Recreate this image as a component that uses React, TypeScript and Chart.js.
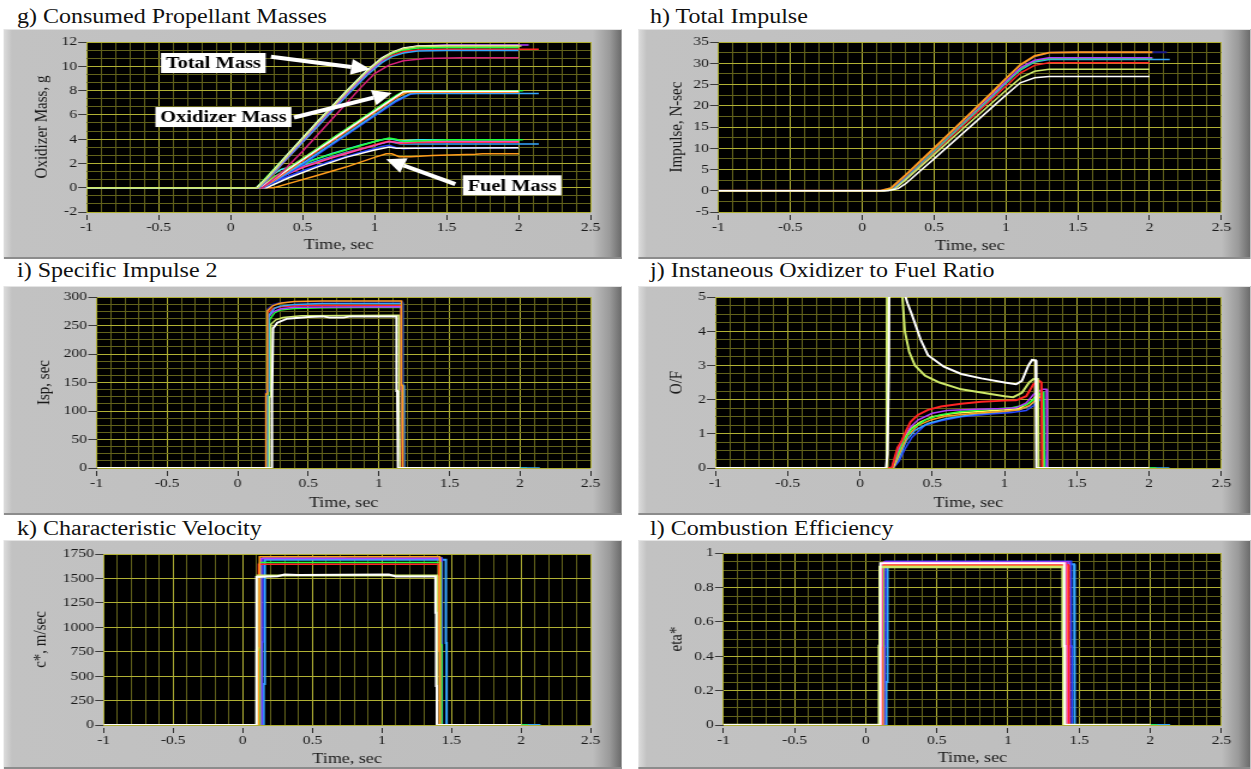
import React, { useEffect, useRef } from 'react';
import { Chart, registerables } from 'chart.js';

Chart.register(...registerables);

// The reference figure is stretched horizontally; everything is drawn in a
// container that is scaled along x by S.
const S = 1.2;
const FONT = '"Liberation Serif", "Times New Roman", serif';

type Pt = [number, number];

// ---------------- shared axis values ----------------
const X_TICKS = [-1, -0.5, 0, 0.5, 1, 1.5, 2, 2.5];
const X_MINOR = 0.1;
const X_TITLE = 'Time, sec';

// ---------------- colours ----------------
const WHITE = '#ffffff';
const YG = '#cde86a';
const YELLOW = '#ffff55';
const RED = '#ff2424';
const VIOLET = '#b23cff';
const GREEN = '#22ff3a';
const BLUE = '#2846ff';
const SKY = '#36a6ff';
const ORANGE = '#ff9c1c';
const NAVY = '#1c1c8c';
const PINK = '#ff46b4';
const MAGENTA = '#d8207c';
const CYAN = '#36f0f0';

// ---------------- g) Consumed Propellant Masses ----------------
const G_Y_TICKS = [-2, 0, 2, 4, 6, 8, 10, 12];
const G_TOTAL_WHITE: Pt[] = [[-1,0],[0.18,0],[0.25,0.8],[0.4,2.8],[0.6,5.4],[0.8,7.9],[0.95,9.7],[1.05,10.7],[1.12,11.15],[1.2,11.5],[1.3,11.68],[1.5,11.72],[2.0,11.72]];
const G_TOTAL_YG: Pt[] = [[-1,0],[0.19,0],[0.26,0.9],[0.4,2.7],[0.6,5.3],[0.8,7.8],[0.95,9.6],[1.05,10.6],[1.12,11.1],[1.2,11.45],[1.3,11.62],[1.5,11.68],[2.02,11.68]];
const G_TOTAL_VIOLET: Pt[] = [[-1,0],[0.19,0],[0.27,1.0],[0.4,2.6],[0.6,5.2],[0.8,7.7],[0.95,9.5],[1.05,10.5],[1.12,11.05],[1.2,11.45],[1.3,11.68],[1.5,11.75],[2.07,11.75]];
const G_TOTAL_GREEN: Pt[] = [[-1,0],[0.18,0],[0.26,1.0],[0.4,2.8],[0.6,5.4],[0.8,7.9],[0.95,9.7],[1.05,10.6],[1.12,11.05],[1.2,11.35],[1.3,11.5],[1.5,11.55],[2.0,11.55]];
const G_TOTAL_SKY: Pt[] = [[-1,0],[0.2,0],[0.28,1.0],[0.4,2.5],[0.6,5.0],[0.8,7.5],[0.95,9.3],[1.05,10.3],[1.12,10.8],[1.2,11.1],[1.3,11.25],[1.5,11.3],[2.0,11.3]];
const G_TOTAL_RED: Pt[] = [[-1,0],[0.2,0],[0.28,0.9],[0.4,2.5],[0.6,5.0],[0.8,7.6],[0.95,9.4],[1.05,10.4],[1.12,10.9],[1.2,11.2],[1.3,11.35],[1.5,11.4],[2.14,11.4]];
const G_TOTAL_MAGENTA: Pt[] = [[-1,0],[0.22,0],[0.35,1.2],[0.5,3.0],[0.7,5.6],[0.9,8.2],[1.0,9.4],[1.1,10.1],[1.2,10.45],[1.35,10.65],[1.6,10.7],[2.0,10.7]];
const G_OX_WHITE: Pt[] = [[-1,0],[0.2,0],[0.3,0.7],[0.5,2.3],[0.7,3.9],[0.9,5.5],[1.05,6.7],[1.15,7.5],[1.2,7.9],[1.25,7.95],[2.0,7.95]];
const G_OX_GREEN: Pt[] = [[-1,0],[0.2,0],[0.3,0.75],[0.5,2.35],[0.7,4.0],[0.9,5.6],[1.05,6.8],[1.15,7.6],[1.2,7.92],[1.25,7.98],[2.03,7.98]];
const G_OX_RED: Pt[] = [[-1,0],[0.21,0],[0.3,0.65],[0.5,2.25],[0.7,3.85],[0.9,5.45],[1.05,6.65],[1.15,7.45],[1.2,7.85],[1.25,7.9],[2.0,7.9]];
const G_OX_YELLOW: Pt[] = [[-1,0],[0.2,0],[0.3,0.8],[0.5,2.4],[0.7,4.0],[0.9,5.6],[1.05,6.8],[1.15,7.55],[1.2,7.88],[1.25,7.92],[2.0,7.92]];
const G_OX_ORANGE: Pt[] = [[-1,0],[0.22,0],[0.32,0.75],[0.5,2.2],[0.7,3.8],[0.9,5.4],[1.05,6.6],[1.15,7.4],[1.22,7.82],[1.27,7.86],[2.0,7.86]];
const G_OX_SKY: Pt[] = [[-1,0],[0.22,0],[0.35,0.9],[0.5,2.0],[0.7,3.6],[0.9,5.2],[1.05,6.4],[1.15,7.2],[1.25,7.75],[2.14,7.75]];
const G_OX_BLUE: Pt[] = [[-1,0],[0.23,0],[0.35,0.8],[0.5,1.9],[0.7,3.5],[0.9,5.1],[1.05,6.3],[1.15,7.1],[1.25,7.7],[1.3,7.78],[2.0,7.78]];
const G_FUEL_GREEN: Pt[] = [[-1,0],[0.2,0],[0.3,0.9],[0.4,1.5],[0.6,2.4],[0.8,3.1],[1.0,3.8],[1.1,4.1],[1.15,4.0],[1.2,3.8],[1.3,3.85],[1.5,3.95],[2.03,3.95]];
const G_FUEL_CYAN: Pt[] = [[-1,0],[0.2,0],[0.28,1.0],[0.35,1.5],[0.5,2.0],[0.7,2.8],[0.9,3.5],[1.05,3.95],[1.1,4.05],[1.18,3.85],[1.3,3.95],[2.0,3.95]];
const G_FUEL_SKY: Pt[] = [[-1,0],[0.21,0],[0.3,0.9],[0.4,1.4],[0.6,2.2],[0.8,2.9],[1.0,3.5],[1.1,3.8],[1.18,3.6],[1.3,3.6],[2.14,3.6]];
const G_FUEL_RED: Pt[] = [[-1,0],[0.21,0],[0.32,0.8],[0.5,1.7],[0.7,2.5],[0.9,3.2],[1.05,3.7],[1.1,3.85],[1.18,3.65],[1.3,3.72],[1.5,3.75],[2.0,3.75]];
const G_FUEL_PINK: Pt[] = [[-1,0],[0.21,0],[0.33,0.8],[0.5,1.65],[0.7,2.45],[0.9,3.15],[1.05,3.65],[1.1,3.8],[1.18,3.7],[1.3,3.8],[2.0,3.8]];
const G_FUEL_BLUE: Pt[] = [[-1,0],[0.22,0],[0.35,0.7],[0.5,1.4],[0.7,2.2],[0.9,2.9],[1.05,3.4],[1.1,3.5],[1.15,3.3],[1.2,3.2],[1.35,3.3],[2.0,3.3]];
const G_FUEL_WHITE: Pt[] = [[-1,0],[0.25,0],[0.4,0.8],[0.6,1.7],[0.8,2.5],[1.0,3.1],[1.1,3.35],[1.15,3.25],[1.25,3.25],[2.0,3.3]];
const G_FUEL_ORANGE: Pt[] = [[-1,0],[0.3,0],[0.45,0.5],[0.6,1.0],[0.8,1.7],[1.0,2.5],[1.08,2.8],[1.12,2.8],[1.17,2.55],[1.25,2.55],[1.4,2.65],[1.7,2.75],[1.75,2.8],[2.0,2.8]];
const G_NOTES = [
  { text: 'Total Mass', x: -0.12, y: 10.27, tail: [0.28, 10.78] as Pt, tip: [0.97, 9.75] as Pt },
  { text: 'Oxidizer Mass', x: -0.05, y: 5.82, tail: [0.44, 5.78] as Pt, tip: [1.12, 7.8] as Pt },
  { text: 'Fuel Mass', x: 1.955, y: 0.2, tail: [1.56, 0.3] as Pt, tip: [1.08, 2.35] as Pt },
];

// ---------------- h) Total Impulse ----------------
const H_Y_TICKS = [-5, 0, 5, 10, 15, 20, 25, 30, 35];
const H_ORANGE: Pt[] = [[-1,0],[0.13,0],[0.2,0.6],[0.3,3.6],[0.5,10.0],[0.7,16.5],[0.9,23.0],[1.0,26.4],[1.1,29.6],[1.2,31.7],[1.3,32.5],[1.5,32.6],[2.02,32.6]];
const H_NAVY: Pt[] = [[-1,0],[0.13,0],[0.2,0.6],[0.3,3.5],[0.5,9.9],[0.7,16.4],[0.9,22.9],[1.0,26.3],[1.1,29.5],[1.2,31.6],[1.3,32.5],[1.5,32.6],[2.12,32.6]];
const H_VIOLET: Pt[] = [[-1,0],[0.14,0],[0.2,0.5],[0.3,3.3],[0.5,9.7],[0.7,16.1],[0.9,22.4],[1.0,25.7],[1.1,28.9],[1.2,30.7],[1.3,31.3],[2.02,31.3]];
const H_GREEN: Pt[] = [[-1,0],[0.14,0],[0.2,0.5],[0.3,3.2],[0.5,9.5],[0.7,15.9],[0.9,22.2],[1.0,25.5],[1.1,28.6],[1.2,30.5],[1.3,31.1],[2.02,31.1]];
const H_SKY: Pt[] = [[-1,0],[0.15,0],[0.22,0.6],[0.3,3.0],[0.5,9.3],[0.7,15.7],[0.9,22.0],[1.0,25.3],[1.1,28.4],[1.2,30.3],[1.3,30.9],[2.14,30.9]];
const H_RED: Pt[] = [[-1,0],[0.15,0],[0.22,0.5],[0.3,2.8],[0.5,9.0],[0.7,15.3],[0.9,21.5],[1.0,24.6],[1.1,27.7],[1.2,29.5],[1.3,30.1],[2.0,30.1]];
const H_YG: Pt[] = [[-1,0],[0.16,0],[0.23,0.5],[0.3,2.5],[0.5,8.5],[0.7,14.6],[0.9,20.6],[1.0,23.6],[1.1,26.5],[1.2,28.1],[1.3,28.6],[2.0,28.6]];
const H_WHITE: Pt[] = [[-1,0],[0.18,0],[0.25,0.5],[0.3,1.6],[0.5,7.5],[0.7,13.5],[0.9,19.5],[1.0,22.5],[1.1,25.4],[1.2,26.6],[1.3,26.9],[2.0,26.9]];

// ---------------- i) Specific Impulse 2 ----------------
const I_Y_TICKS = [0, 50, 100, 150, 200, 250, 300];
const I_ORANGE: Pt[] = [[-1,0],[0.2,0],[0.2,130],[0.205,130],[0.21,276],[0.25,285],[0.3,289],[0.4,292],[0.6,293],[1.16,293],[1.16,145],[1.165,145],[1.17,0],[2.0,0]];
const I_NAVY: Pt[] = [[-1,0],[0.2,0],[0.2,135],[0.205,135],[0.21,279],[0.25,287],[0.3,290],[0.4,291.5],[1.165,292],[1.165,140],[1.17,140],[1.175,0],[2.0,0]];
const I_SKY: Pt[] = [[-1,0],[0.21,0],[0.21,135],[0.215,135],[0.22,268],[0.26,280],[0.3,284],[0.4,287],[0.6,288.5],[1.17,289],[1.17,145],[1.175,145],[1.18,0],[2.14,0]];
const I_VIOLET: Pt[] = [[-1,0],[0.205,0],[0.205,128],[0.21,128],[0.215,264],[0.25,274],[0.3,279],[0.4,282],[1.16,283],[1.16,135],[1.165,135],[1.17,0],[2.0,0]];
const I_GREEN: Pt[] = [[-1,0],[0.215,0],[0.215,130],[0.22,130],[0.225,260],[0.26,272],[0.3,277],[0.4,280],[0.6,281],[1.16,282],[1.16,130],[1.165,130],[1.17,0],[2.05,0]];
const I_RED: Pt[] = [[-1,0],[0.2,0],[0.2,132],[0.205,132],[0.21,272],[0.25,280],[0.3,283],[0.45,285],[1.155,285],[1.155,138],[1.16,138],[1.165,0],[2.0,0]];
const I_YG: Pt[] = [[-1,0],[0.225,0],[0.225,125],[0.23,125],[0.235,252],[0.27,260],[0.32,264],[0.45,267],[1.14,268],[1.14,132],[1.145,132],[1.15,0],[2.0,0]];
const I_WHITE: Pt[] = [[-1,0],[0.24,0],[0.24,120],[0.245,120],[0.25,245],[0.28,255],[0.35,262],[0.5,265],[0.6,266],[0.65,264],[0.75,264],[0.8,266],[1.125,266],[1.125,135],[1.13,135],[1.135,0],[2.0,0]];

// ---------------- j) Instaneous Oxidizer to Fuel Ratio ----------------
const J_Y_TICKS = [0, 1, 2, 3, 4, 5];
const J_WHITE: Pt[] = [[-1,0],[0.18,0],[0.19,0.4],[0.2,3.0],[0.205,8],[0.28,8],[0.3,5.2],[0.33,4.8],[0.36,4.47],[0.42,3.75],[0.47,3.3],[0.58,2.96],[0.7,2.75],[0.84,2.62],[1.0,2.5],[1.08,2.45],[1.12,2.55],[1.165,3.0],[1.19,3.16],[1.215,3.15],[1.22,0],[2.0,0]];
const J_YG: Pt[] = [[-1,0],[0.18,0],[0.185,3.0],[0.19,8],[0.27,8],[0.29,5.2],[0.31,4.0],[0.34,3.4],[0.38,3.0],[0.45,2.7],[0.55,2.5],[0.7,2.3],[0.85,2.2],[1.0,2.1],[1.06,2.07],[1.12,2.2],[1.17,2.5],[1.2,2.6],[1.23,2.6],[1.235,0],[2.0,0]];
const J_RED: Pt[] = [[-1,0],[0.22,0],[0.24,0.3],[0.26,0.6],[0.29,0.8],[0.32,1.1],[0.35,1.35],[0.4,1.55],[0.47,1.7],[0.56,1.8],[0.7,1.88],[0.84,1.94],[1.0,1.97],[1.08,1.98],[1.15,2.1],[1.2,2.45],[1.24,2.55],[1.255,2.5],[1.26,0],[2.0,0]];
const J_VIOLET: Pt[] = [[-1,0],[0.22,0],[0.26,0.5],[0.3,0.9],[0.35,1.2],[0.4,1.4],[0.5,1.6],[0.6,1.68],[0.8,1.72],[1.0,1.74],[1.08,1.76],[1.15,1.9],[1.2,2.15],[1.26,2.3],[1.29,2.3],[1.295,0],[2.0,0]];
const J_GREEN: Pt[] = [[-1,0],[0.22,0],[0.26,0.4],[0.3,0.8],[0.36,1.15],[0.45,1.4],[0.55,1.55],[0.7,1.65],[0.9,1.72],[1.05,1.76],[1.15,1.85],[1.2,2.0],[1.25,2.2],[1.27,2.2],[1.275,0],[2.05,0]];
const J_YELLOW: Pt[] = [[-1,0],[0.225,0],[0.26,0.4],[0.3,0.85],[0.35,1.15],[0.42,1.35],[0.5,1.5],[0.65,1.6],[0.85,1.66],[1.0,1.7],[1.1,1.74],[1.17,1.9],[1.22,2.1],[1.26,2.2],[1.27,0],[2.0,0]];
const J_ORANGE: Pt[] = [[-1,0],[0.23,0],[0.28,0.5],[0.33,0.95],[0.4,1.25],[0.5,1.42],[0.6,1.52],[0.8,1.6],[1.0,1.66],[1.1,1.7],[1.17,1.82],[1.22,2.0],[1.26,2.1],[1.265,0],[2.0,0]];
const J_SKY: Pt[] = [[-1,0],[0.23,0],[0.27,0.3],[0.32,0.8],[0.38,1.1],[0.47,1.3],[0.6,1.45],[0.8,1.58],[1.0,1.65],[1.1,1.7],[1.17,1.8],[1.22,2.0],[1.27,2.2],[1.28,0],[2.14,0]];
const J_BLUE: Pt[] = [[-1,0],[0.23,0],[0.27,0.2],[0.31,0.55],[0.36,0.9],[0.45,1.25],[0.56,1.38],[0.7,1.5],[0.9,1.58],[1.05,1.62],[1.15,1.68],[1.2,1.82],[1.26,2.05],[1.28,0],[2.0,0]];

// ---------------- k) Characteristic Velocity ----------------
const K_Y_TICKS = [0, 250, 500, 750, 1000, 1250, 1500, 1750];
const K_ORANGE: Pt[] = [[-1,0],[0.115,0],[0.115,790],[0.12,790],[0.12,1722],[1.415,1722],[1.415,830],[1.42,830],[1.42,0],[2.0,0]];
const K_NAVY: Pt[] = [[-1,0],[0.14,0],[0.14,850],[0.145,850],[0.145,1714],[0.7,1714],[0.75,1710],[1.43,1712],[1.43,850],[1.435,850],[1.435,0],[2.0,0]];
const K_VIOLET: Pt[] = [[-1,0],[0.13,0],[0.13,800],[0.135,800],[0.135,1705],[1.425,1705],[1.425,800],[1.43,800],[1.43,0],[2.0,0]];
const K_SKY: Pt[] = [[-1,0],[0.15,0],[0.15,420],[0.155,420],[0.155,850],[0.16,850],[0.16,1690],[1.46,1690],[1.46,840],[1.465,840],[1.465,0],[2.14,0]];
const K_GREEN: Pt[] = [[-1,0],[0.12,0],[0.12,800],[0.125,800],[0.125,1662],[1.425,1662],[1.425,820],[1.43,820],[1.43,0],[2.05,0]];
const K_RED: Pt[] = [[-1,0],[0.11,0],[0.11,780],[0.115,780],[0.115,1645],[1.41,1645],[1.41,760],[1.415,760],[1.415,0],[2.0,0]];
const K_YG: Pt[] = [[-1,0],[0.1,0],[0.1,770],[0.105,770],[0.105,1530],[1.395,1530],[1.395,780],[1.4,780],[1.4,0],[2.0,0]];
const K_WHITE: Pt[] = [[-1,0],[0.095,0],[0.095,750],[0.1,750],[0.1,1515],[0.25,1522],[0.3,1540],[0.4,1535],[1.05,1540],[1.1,1520],[1.385,1520],[1.385,1150],[1.39,1150],[1.39,400],[1.395,400],[1.395,0],[2.0,0]];

// ---------------- l) Combustion Efficiency ----------------
const L_Y_TICKS = [0, 0.2, 0.4, 0.6, 0.8, 1];
const L_BLUE: Pt[] = [[-1,0],[0.13,0],[0.13,0.25],[0.135,0.25],[0.135,0.46],[0.14,0.46],[0.14,0.952],[1.445,0.952],[1.445,0.46],[1.45,0.46],[1.45,0],[2.0,0]];
const L_VIOLET: Pt[] = [[-1,0],[0.125,0],[0.125,0.46],[0.13,0.46],[0.13,0.948],[1.43,0.948],[1.43,0.46],[1.435,0.46],[1.435,0],[2.0,0]];
const L_WHITE: Pt[] = [[-1,0],[0.1,0],[0.1,0.46],[0.105,0.46],[0.105,0.94],[1.395,0.94],[1.395,0.46],[1.4,0.46],[1.4,0],[2.0,0]];
const L_PINK: Pt[] = [[-1,0],[0.11,0],[0.11,0.46],[0.115,0.46],[0.115,0.942],[1.41,0.942],[1.41,0.46],[1.415,0.46],[1.415,0],[2.0,0]];
const L_RED: Pt[] = [[-1,0],[0.112,0],[0.112,0.46],[0.117,0.46],[0.117,0.932],[1.425,0.932],[1.425,0.46],[1.43,0.46],[1.43,0],[2.0,0]];
const L_ORANGE: Pt[] = [[-1,0],[0.115,0],[0.115,0.46],[0.12,0.46],[0.12,0.928],[1.415,0.928],[1.415,0.46],[1.42,0.46],[1.42,0],[2.0,0]];
const L_GREEN: Pt[] = [[-1,0],[0.12,0],[0.12,0.46],[0.125,0.46],[0.125,0.92],[1.4,0.92],[1.4,0.46],[1.405,0.46],[1.405,0],[2.05,0]];
const L_YELLOW: Pt[] = [[-1,0],[0.095,0],[0.095,0.46],[0.1,0.46],[0.1,0.918],[1.385,0.918],[1.385,0.46],[1.39,0.46],[1.39,0],[2.0,0]];
const L_SKY: Pt[] = [[-1,0],[0.145,0],[0.145,0.25],[0.15,0.25],[0.15,0.7],[0.155,0.7],[0.155,0.935],[1.465,0.935],[1.465,0.46],[1.47,0.46],[1.47,0],[2.14,0]];

// ---------------- styling ----------------
const MAJOR_GRID = '#b0b034';
const MINOR_GRID = '#62621b';
const TEXT = '#1a1a1a';

type Series = { data: Pt[]; color: string; width?: number };
type PanelDef = {
  title: string;
  titleX: number;
  titleBase: number;
  frame: [number, number, number, number];
  plot: [number, number, number, number];
  yTicks: number[];
  yMinor: number;
  yTitle: string;
  yTitleX: number;
  xTitleY: number;
  series: Series[];
  notes?: boolean;
};

const PANELS: PanelDef[] = [
  {
    title: 'g) Consumed Propellant Masses', titleX: 17, titleBase: 23,
    frame: [3, 29, 622, 259], plot: [86, 42, 590, 212],
    yTicks: G_Y_TICKS, yMinor: 2 / 3, yTitle: 'Oxidizer Mass, g', yTitleX: 41, xTitleY: 245,
    notes: true,
    series: [
      { data: G_TOTAL_YG, color: YG }, { data: G_TOTAL_WHITE, color: WHITE }, { data: G_TOTAL_GREEN, color: GREEN },
      { data: G_TOTAL_VIOLET, color: VIOLET }, { data: G_TOTAL_SKY, color: SKY }, { data: G_TOTAL_RED, color: RED },
      { data: G_TOTAL_MAGENTA, color: MAGENTA },
      { data: G_OX_WHITE, color: WHITE }, { data: G_OX_GREEN, color: GREEN }, { data: G_OX_YELLOW, color: YELLOW },
      { data: G_OX_RED, color: RED }, { data: G_OX_ORANGE, color: ORANGE }, { data: G_OX_SKY, color: SKY }, { data: G_OX_BLUE, color: BLUE },
      { data: G_FUEL_GREEN, color: GREEN }, { data: G_FUEL_CYAN, color: CYAN }, { data: G_FUEL_PINK, color: PINK },
      { data: G_FUEL_RED, color: RED }, { data: G_FUEL_SKY, color: SKY }, { data: G_FUEL_WHITE, color: WHITE },
      { data: G_FUEL_BLUE, color: BLUE }, { data: G_FUEL_ORANGE, color: ORANGE },
    ],
  },
  {
    title: 'h) Total Impulse', titleX: 650, titleBase: 23,
    frame: [638, 29, 1251, 259], plot: [718, 42, 1221, 212],
    yTicks: H_Y_TICKS, yMinor: 2.5, yTitle: 'Impulse, N-sec', yTitleX: 677, xTitleY: 246,
    series: [
      { data: H_WHITE, color: WHITE }, { data: H_YG, color: YG }, { data: H_ORANGE, color: ORANGE, width: 2 },
      { data: H_NAVY, color: NAVY, width: 2 }, { data: H_VIOLET, color: VIOLET }, { data: H_GREEN, color: GREEN },
      { data: H_SKY, color: SKY }, { data: H_RED, color: RED },
    ],
  },
  {
    title: 'i) Specific Impulse 2', titleX: 17, titleBase: 277,
    frame: [3, 286, 622, 515], plot: [96, 297, 590, 468],
    yTicks: I_Y_TICKS, yMinor: 12.5, yTitle: 'Isp, sec', yTitleX: 44, xTitleY: 503,
    series: [
      { data: I_WHITE, color: WHITE, width: 2 }, { data: I_YG, color: YG }, { data: I_ORANGE, color: ORANGE },
      { data: I_NAVY, color: NAVY }, { data: I_SKY, color: SKY }, { data: I_VIOLET, color: VIOLET },
      { data: I_GREEN, color: GREEN }, { data: I_RED, color: RED },
    ],
  },
  {
    title: 'j) Instaneous Oxidizer to Fuel Ratio', titleX: 650, titleBase: 277,
    frame: [638, 286, 1251, 515], plot: [715, 297, 1221, 468],
    yTicks: J_Y_TICKS, yMinor: 0.25, yTitle: 'O/F', yTitleX: 677, xTitleY: 503,
    series: [
      { data: J_WHITE, color: WHITE, width: 2 }, { data: J_YG, color: YG, width: 2 }, { data: J_RED, color: RED, width: 2 },
      { data: J_VIOLET, color: VIOLET }, { data: J_GREEN, color: GREEN }, { data: J_YELLOW, color: YELLOW },
      { data: J_ORANGE, color: ORANGE }, { data: J_SKY, color: SKY }, { data: J_BLUE, color: BLUE },
    ],
  },
  {
    title: 'k) Characteristic Velocity', titleX: 17, titleBase: 535,
    frame: [3, 540, 622, 769], plot: [103, 554, 590, 725],
    yTicks: K_Y_TICKS, yMinor: 250, yTitle: 'c*, m/sec', yTitleX: 40, xTitleY: 759,
    series: [
      { data: K_WHITE, color: WHITE, width: 2 }, { data: K_YG, color: YG, width: 2 }, { data: K_ORANGE, color: ORANGE },
      { data: K_RED, color: RED }, { data: K_GREEN, color: GREEN }, { data: K_VIOLET, color: VIOLET },
      { data: K_NAVY, color: BLUE }, { data: K_SKY, color: SKY, width: 2 },
    ],
  },
  {
    title: 'l) Combustion Efficiency', titleX: 650, titleBase: 535,
    frame: [638, 540, 1251, 769], plot: [723, 553, 1221, 725],
    yTicks: L_Y_TICKS, yMinor: 0.05, yTitle: 'eta*', yTitleX: 676, xTitleY: 758,
    series: [
      { data: L_WHITE, color: WHITE, width: 2 }, { data: L_YELLOW, color: YG, width: 2.5 }, { data: L_PINK, color: PINK },
      { data: L_RED, color: RED }, { data: L_ORANGE, color: ORANGE, width: 2 }, { data: L_GREEN, color: GREEN },
      { data: L_VIOLET, color: VIOLET }, { data: L_BLUE, color: BLUE }, { data: L_SKY, color: SKY, width: 2 },
    ],
  },
];

// ---------------- helpers ----------------
function isMajor(v: number, majors: number[]) {
  return majors.some((t) => Math.abs(t - v) < 1e-6);
}
function labelOf(v: number, majors: number[]) {
  const t = majors.find((m) => Math.abs(m - v) < 1e-6);
  return t === undefined ? '' : String(t);
}
function buildTicks(majors: number[], step: number) {
  const min = majors[0];
  const max = majors[majors.length - 1];
  const n = Math.round((max - min) / step);
  const out: { value: number }[] = [];
  for (let i = 0; i <= n; i++) {
    let v = Math.round((min + i * step) * 1e9) / 1e9;
    const m = majors.find((t) => Math.abs(t - v) < 1e-6);
    if (m !== undefined) v = m;
    out.push({ value: v });
  }
  return out;
}

const blackPlot = {
  id: 'blackPlot',
  beforeDraw(chart: any) {
    const { ctx, chartArea: a } = chart;
    ctx.save();
    ctx.fillStyle = '#000000';
    ctx.fillRect(a.left, a.top, a.right - a.left, a.bottom - a.top);
    ctx.restore();
  },
};

const notesPlugin = {
  id: 'notes',
  afterDatasetsDraw(chart: any) {
    const { ctx, scales } = chart;
    const xs = scales.x;
    const ys = scales.y;
    ctx.save();
    for (const n of G_NOTES) {
      const x1 = xs.getPixelForValue(n.tail[0]);
      const y1 = ys.getPixelForValue(n.tail[1]);
      const x2 = xs.getPixelForValue(n.tip[0]);
      const y2 = ys.getPixelForValue(n.tip[1]);
      const len = Math.hypot(x2 - x1, y2 - y1);
      const ux = (x2 - x1) / len;
      const uy = (y2 - y1) / len;
      const hl = 16;
      const hw = 8;
      const bx = x2 - ux * hl;
      const by = y2 - uy * hl;
      ctx.strokeStyle = '#ffffff';
      ctx.fillStyle = '#ffffff';
      ctx.lineWidth = 4;
      ctx.beginPath();
      ctx.moveTo(x1, y1);
      ctx.lineTo(bx, by);
      ctx.stroke();
      ctx.beginPath();
      ctx.moveTo(x2, y2);
      ctx.lineTo(bx - uy * hw, by + ux * hw);
      ctx.lineTo(bx + uy * hw, by - ux * hw);
      ctx.closePath();
      ctx.fill();
    }
    ctx.font = `bold 17px ${FONT}`;
    ctx.textAlign = 'center';
    ctx.textBaseline = 'middle';
    for (const n of G_NOTES) {
      const cx = xs.getPixelForValue(n.x);
      const cy = ys.getPixelForValue(n.y);
      const w = ctx.measureText(n.text).width + 8;
      const h = 20;
      ctx.fillStyle = '#ffffff';
      ctx.fillRect(cx - w / 2, cy - h / 2, w, h);
      ctx.fillStyle = '#000000';
      ctx.fillText(n.text, cx, cy + 1);
    }
    ctx.restore();
  },
};

function Panel({ def }: { def: PanelDef }) {
  const ref = useRef<HTMLCanvasElement>(null);
  const [fx0, fy0, fx1, fy1] = def.frame;
  const fw = (fx1 - fx0) / S;
  const fh = fy1 - fy0;
  const cw = Math.floor(fw);

  useEffect(() => {
    const canvas = ref.current;
    if (!canvas) return;
    const [px0, py0, px1, py1] = def.plot;
    const L = (px0 - fx0) / S;
    const R = (px1 - fx0) / S;
    const T = py0 - fy0;
    const B = py1 - fy0;
    const yMin = def.yTicks[0];
    const yMax = def.yTicks[def.yTicks.length - 1];
    const titleFont = { family: FONT, size: 15 };
    const tickFont = { family: FONT, size: 13 };
    const yTitlePad = (def.yTitleX - fx0) / S - 9;
    const xTitlePad = fy1 - def.xTitleY - 9;

    const chart = new Chart(canvas, {
      type: 'line',
      data: {
        datasets: def.series.map((s) => ({
          data: s.data.map(([x, y]) => ({ x, y })),
          borderColor: s.color,
          backgroundColor: s.color,
          borderWidth: s.width ?? 1.5,
          pointRadius: 0,
          tension: 0,
          fill: false,
        })),
      },
      options: {
        animation: false,
        responsive: false,
        devicePixelRatio: 1,
        events: [],
        layout: { padding: { left: 0, top: T, right: cw - R, bottom: 0 } },
        plugins: { legend: { display: false }, tooltip: { enabled: false }, title: { display: false } },
        scales: {
          x: {
            type: 'linear',
            min: X_TICKS[0],
            max: X_TICKS[X_TICKS.length - 1],
            afterBuildTicks: (s: any) => { s.ticks = buildTicks(X_TICKS, X_MINOR); },
            afterFit: (s: any) => { s.height = fh - B; },
            border: { display: false },
            grid: {
              color: (c: any) => (isMajor(c.tick?.value, X_TICKS) ? MAJOR_GRID : MINOR_GRID),
              tickColor: (c: any) => (isMajor(c.tick?.value, X_TICKS) ? '#2a2a2a' : 'rgba(0,0,0,0)'),
              tickLength: 8,
              tickBorderDash: [0, 3, 6, 0],
              lineWidth: 1,
            },
            ticks: {
              autoSkip: false,
              maxRotation: 0,
              minRotation: 0,
              padding: 0,
              color: TEXT,
              font: tickFont,
              callback: (v: any) => labelOf(Number(v), X_TICKS),
            },
            title: { display: true, text: X_TITLE, color: TEXT, font: titleFont, padding: { top: 0, bottom: xTitlePad } },
          },
          y: {
            type: 'linear',
            min: yMin,
            max: yMax,
            afterBuildTicks: (s: any) => { s.ticks = buildTicks(def.yTicks, def.yMinor); },
            afterFit: (s: any) => { s.width = L; },
            border: { display: false },
            grid: {
              color: (c: any) => (isMajor(c.tick?.value, def.yTicks) ? MAJOR_GRID : MINOR_GRID),
              tickColor: (c: any) => (isMajor(c.tick?.value, def.yTicks) ? '#3a3a3a' : 'rgba(0,0,0,0)'),
              tickLength: 7,
              lineWidth: 1,
            },
            ticks: {
              autoSkip: false,
              padding: 1,
              color: TEXT,
              font: tickFont,
              callback: (v: any) => labelOf(Number(v), def.yTicks),
            },
            title: { display: true, text: def.yTitle, color: TEXT, font: titleFont, padding: { top: yTitlePad, bottom: 0 } },
          },
        },
      } as any,
      plugins: def.notes ? [blackPlot, notesPlugin] : [blackPlot],
    });
    return () => chart.destroy();
  }, []);

  return (
    <>
      <div
        style={{
          position: 'absolute',
          left: def.titleX / S,
          top: def.titleBase - 16.8,
          font: `20px ${FONT}`,
          lineHeight: '20px',
          whiteSpace: 'nowrap',
          color: '#111111',
        }}
      >
        {def.title}
      </div>
      <div
        style={{
          position: 'absolute',
          left: fx0 / S,
          top: fy0,
          width: fw,
          height: fh,
          background:
            'linear-gradient(to right, #dcdcdc 0px, #c2c2c2 7px, #bdbdbd calc(100% - 24px), #9a9a9a calc(100% - 10px), #6a6a6a 100%)',
          boxShadow: 'inset 0 1px 0 #e4e4e4, inset 0 -2px 0 #8c8c8c',
        }}
      >
        <canvas ref={ref} width={cw} height={fh} style={{ display: 'block', width: cw, height: fh }} />
      </div>
    </>
  );
}

export default function App() {
  useEffect(() => {
    document.body.style.overflow = 'hidden';
    document.documentElement.style.overflow = 'hidden';
  }, []);
  return (
    <div
      style={{
        position: 'absolute',
        left: 0,
        top: 0,
        width: 1251 / S,
        height: 769,
        background: '#ffffff',
        transform: `scaleX(${S})`,
        transformOrigin: '0 0',
        overflow: 'hidden',
      }}
    >
      {PANELS.map((p, i) => (
        <Panel key={i} def={p} />
      ))}
    </div>
  );
}
